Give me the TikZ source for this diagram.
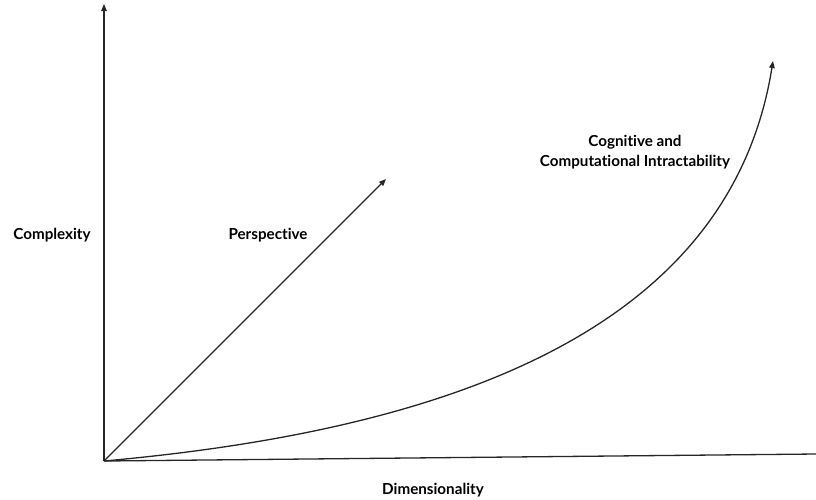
\documentclass[tikz,border=0pt]{standalone}
\usepackage{fontspec}
\setmainfont{Lato}[Ligatures={NoCommon,NoContextual}]
\usetikzlibrary{arrows.meta}
\begin{document}
\begin{tikzpicture}[x=1pt,y=-1pt,
  axis/.style={line width=1.3pt,black!85},
  tip/.style={-{Triangle[length=7pt,width=5.5pt]}},
  lbl/.style={font=\bfseries\fontsize{15.2}{19.5}\selectfont,inner sep=0pt,align=center}]
  \useasboundingbox (0,0) rectangle (816,499);
  \coordinate (o) at (104,461);
  \coordinate (ytop) at (104,4);
  \coordinate (xend) at (816,454);
  \coordinate (pend) at (386,179);
  \coordinate (cend) at (773,61);
  % axes
  \draw[axis,tip] (o) -- (ytop);
  \draw[axis] (o) -- (xend);
  % perspective arrow
  \draw[axis,tip] (o) -- (pend);
  % intractability curve
  \draw[axis,tip] (o) .. controls (450,430) and (730,330) .. (cend);
  % labels
  \node[lbl] (complexity) at (52,235) {Complexity};
  \node[lbl] (perspective) at (268,235) {Perspective};
  \node[lbl] (intract) at (635,152) {Cognitive and\\Computational Intractability};
  \node[lbl] (dim) at (433,490) {Dimensionality};
\end{tikzpicture}
\end{document}
